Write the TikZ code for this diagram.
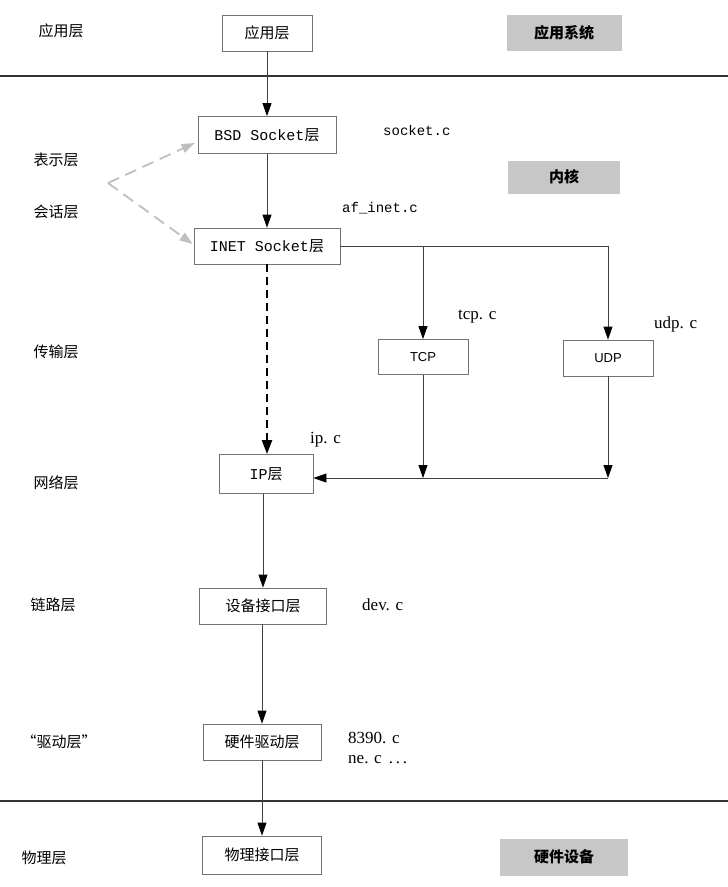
\documentclass[tikz,border=0pt]{standalone}
\usepackage{fontspec}
\setmainfont{Liberation Serif}
\newfontfamily\cjk{Noto Sans CJK SC}
\newfontfamily\monof{Liberation Mono}
\newfontfamily\sansf{Liberation Sans}
\usetikzlibrary{arrows.meta,positioning}

\tikzset{
    layerbox/.style={draw=black!55, line width=0.8pt, minimum height=36pt,
        inner sep=2pt, font=\cjk\fontsize{15}{18}\selectfont},
    grayboxstyle/.style={fill=black!22, minimum height=36pt,
        font=\cjk\bfseries\fontsize{15}{18}\selectfont},
    sidelabel/.style={anchor=west, font=\cjk\fontsize{15}{18}\selectfont},
    srclabel/.style={anchor=west, inner sep=0pt, font=\fontsize{17}{20}\selectfont},
    monolabel/.style={srclabel, font=\monof\fontsize{14}{17}\selectfont},
    flow/.style={draw=black!75, line width=0.8pt,
        -{Triangle[length=13pt,width=9pt,color=black]}},
    sepline/.style={draw=black!80, line width=1.6pt},
}

\begin{document}
\begin{tikzpicture}[x=1pt,y=-1pt]
    \useasboundingbox[fill=white] (0,0) rectangle (728,887);

    % layer separators
    \draw[sepline] (0,76) -- (728,76);
    \draw[sepline] (0,801) -- (728,801);

    % left column
    \node[sidelabel] (lapp) at (35,31) {应用层};
    \node[sidelabel] (lpres) at (30,160) {表示层};
    \node[sidelabel] (lsess) at (30,212) {会话层};
    \node[sidelabel] (ltrans) at (30,352) {传输层};
    \node[sidelabel] (lnet) at (30,483) {网络层};
    \node[sidelabel] (llink) at (27,605) {链路层};
    \node[sidelabel] (ldrv) at (18,742) {“驱动层”};
    \node[sidelabel] (lphy) at (18,858) {物理层};

    % gray tags
    \node[grayboxstyle, minimum width=115pt] (tagapp) at (564,33) {应用系统};
    \node[grayboxstyle, minimum width=112pt, minimum height=33pt] (tagkern) at (564,177) {内核};
    \node[grayboxstyle, minimum width=128pt, minimum height=37pt] (taghw) at (564,857) {硬件设备};

    % main stack
    \node[layerbox, minimum width=90pt] (app) at (267,33) {应用层};
    \node[layerbox, minimum width=138pt, minimum height=37pt] (bsd) at (267,135)
        {\monof BSD Socket\cjk 层};
    \node[layerbox, minimum width=146pt] (inet) at (267,246)
        {\monof INET Socket\cjk 层};
    \node[layerbox, minimum width=90pt, minimum height=35pt, font=\sansf\fontsize{13}{15}\selectfont] (tcp) at (423,357) {TCP};
    \node[layerbox, minimum width=90pt, font=\sansf\fontsize{13}{15}\selectfont] (udp) at (608,358) {UDP};
    \node[layerbox, minimum width=94pt, minimum height=39pt] (ip) at (266,474)
        {\monof IP\cjk 层};
    \node[layerbox, minimum width=127pt] (dev) at (263,606) {设备接口层};
    \node[layerbox, minimum width=118pt] (drv) at (262,742) {硬件驱动层};
    \node[layerbox, minimum width=119pt, minimum height=38pt] (phy) at (262,855) {物理接口层};

    % source files
    \node[monolabel] (fsock) at (383,130) {socket.c};
    \node[monolabel] (finet) at (342,208) {af\_inet.c};
    \node[srclabel] (ftcp) at (458,317) {tcp. c};
    \node[srclabel] (fudp) at (654,324) {udp. c};
    \node[srclabel] (fip) at (310,440) {ip. c};
    \node[srclabel] (fdev) at (362,605) {dev. c};
    \node[srclabel] (fdrv) at (348,738) {8390. c};
    \node[srclabel] (fne) at (348,760) {ne. c \,.\,.\,.};

    % connectors
    \draw[flow] (app) -- (bsd);
    \draw[flow] (bsd) -- (inet);
    \draw[flow, draw=black, line width=2.4pt, dash pattern=on 8pt off 5pt,
        -{Triangle[length=14pt,width=10pt]}] (inet) -- (ip.north -| inet);
    \draw[draw=black!75, line width=0.8pt] (inet.east) -- (udp.north |- inet.east);
    \draw[flow] (udp.north |- inet.east) -- (udp.north);
    \draw[flow] (tcp.north |- inet.east) -- (tcp.north);
    \coordinate (bus) at (608,478);
    \draw[flow] (tcp.south) -- (tcp.south |- bus);
    \draw[flow] (udp.south) -- (bus);
    \draw[flow] (bus) -- (ip.east |- bus);
    \draw[flow] (ip.south -| dev) -- (dev);
    \draw[flow] (dev.south -| drv) -- (drv);
    \draw[flow] (drv) -- (phy);

    % presentation / session map onto the socket layers
    \coordinate (fork) at (108,183);
    \draw[draw=black!25, line width=1.8pt, dash pattern=on 12pt off 7pt,
        -{Triangle[length=13pt,width=9pt]}] (fork) -- ([xshift=-3pt,yshift=-8pt]bsd.west);
    \draw[draw=black!25, line width=1.8pt, dash pattern=on 12pt off 7pt,
        -{Triangle[length=13pt,width=9pt]}] (fork) -- ([xshift=-1pt,yshift=2pt]inet.west);
\end{tikzpicture}
\end{document}
